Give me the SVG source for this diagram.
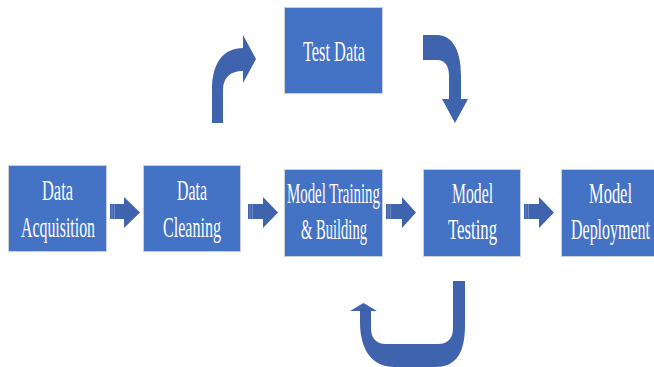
<svg xmlns="http://www.w3.org/2000/svg" width="654" height="367" viewBox="0 0 654 367">
  <style>
    .box { fill: #4472C4; stroke: #C9CFD8; stroke-width: 1; }
    .lbl { font-family: "Liberation Serif", "Times New Roman", serif; font-size: 30px; fill: #FFFFFF; text-anchor: middle; }
    .arr { fill: #3F63AD; }
    .stripe { stroke: #7C95CB; stroke-width: 0.8; }
  </style>
  <rect width="654" height="367" fill="#FFFFFF"/>

  <g id="connectors">
    <g id="arrow-acq-clean">
      <path class="arr" d="M110,204 L124,204 L124,197 L140,212.5 L124,228 L124,219 L110,219 Z"/>
      <line class="stripe" x1="112" y1="204" x2="112" y2="219"/>
      <line class="stripe" x1="114.5" y1="204" x2="114.5" y2="219"/>
    </g>
    <g id="arrow-clean-train">
      <path class="arr" d="M248,204 L263,204 L263,197 L278,212.5 L263,228 L263,219 L248,219 Z"/>
      <line class="stripe" x1="250" y1="204" x2="250" y2="219"/>
      <line class="stripe" x1="252.5" y1="204" x2="252.5" y2="219"/>
    </g>
    <g id="arrow-train-test">
      <path class="arr" d="M386,204 L402,204 L402,197 L416,212.5 L402,228 L402,219 L386,219 Z"/>
      <line class="stripe" x1="388" y1="204" x2="388" y2="219"/>
      <line class="stripe" x1="390.5" y1="204" x2="390.5" y2="219"/>
    </g>
    <g id="arrow-test-deploy">
      <path class="arr" d="M524,204 L539,204 L539,197 L554,212.5 L539,228 L539,219 L524,219 Z"/>
      <line class="stripe" x1="526" y1="204" x2="526" y2="219"/>
      <line class="stripe" x1="528.5" y1="204" x2="528.5" y2="219"/>
    </g>
    <path id="arrow-up-right" class="arr" d="M212,123 L212,90 C212,62 224,48 243,48 L243,35 L256,59 L243,83 L243,71 C230,71 223,78 223,90 L223,123 Z"/>
    <path id="arrow-right-down" class="arr" d="M423,35 L437,35 C452,35 461,50 461,75 L461,99 L468,99 L455,123 L442,99 L449,99 L449,76 C449,66 445,60 437,60 L423,60 Z"/>
    <path id="arrow-u-turn" class="arr" d="M465,281 L465,325 C465,355 455,367 435,367 L395,367 C372,367 360,350 360,322 L360,311 L350,311 L363.5,303 L377,311 L371,311 L371,328 C371,338 376,344 386,344 L438,344 C448,344 453,338 453,328 L453,281 Z"/>
  </g>

  <g id="node-test-data">
    <rect class="box" x="284.5" y="7.5" width="98" height="86"/>
    <text class="lbl" x="334" y="61" textLength="62" lengthAdjust="spacingAndGlyphs">Test Data</text>
  </g>
  <g id="node-data-acquisition">
    <rect class="box" x="8.5" y="165.5" width="98" height="86"/>
    <text class="lbl" x="57.5" y="200" textLength="31" lengthAdjust="spacingAndGlyphs">Data</text>
    <text class="lbl" x="58" y="237" textLength="74" lengthAdjust="spacingAndGlyphs">Acquisition</text>
  </g>
  <g id="node-data-cleaning">
    <rect class="box" x="143.5" y="165.5" width="97" height="86"/>
    <text class="lbl" x="192" y="200" textLength="30" lengthAdjust="spacingAndGlyphs">Data</text>
    <text class="lbl" x="192" y="237" textLength="58" lengthAdjust="spacingAndGlyphs">Cleaning</text>
  </g>
  <g id="node-model-training">
    <rect class="box" x="284.5" y="169.5" width="98" height="87"/>
    <text class="lbl" x="333.5" y="203" textLength="93" lengthAdjust="spacingAndGlyphs">Model Training</text>
    <text class="lbl" x="334" y="239" textLength="66" lengthAdjust="spacingAndGlyphs">&amp; Building</text>
  </g>
  <g id="node-model-testing">
    <rect class="box" x="423.5" y="169.5" width="97" height="87"/>
    <text class="lbl" x="472.5" y="203" textLength="41" lengthAdjust="spacingAndGlyphs">Model</text>
    <text class="lbl" x="472.5" y="239" textLength="49" lengthAdjust="spacingAndGlyphs">Testing</text>
  </g>
  <g id="node-model-deployment">
    <rect class="box" x="561.5" y="169.5" width="99" height="87"/>
    <text class="lbl" x="610.5" y="203" textLength="43" lengthAdjust="spacingAndGlyphs">Model</text>
    <text class="lbl" x="610.5" y="239" textLength="79" lengthAdjust="spacingAndGlyphs">Deployment</text>
  </g>
</svg>
